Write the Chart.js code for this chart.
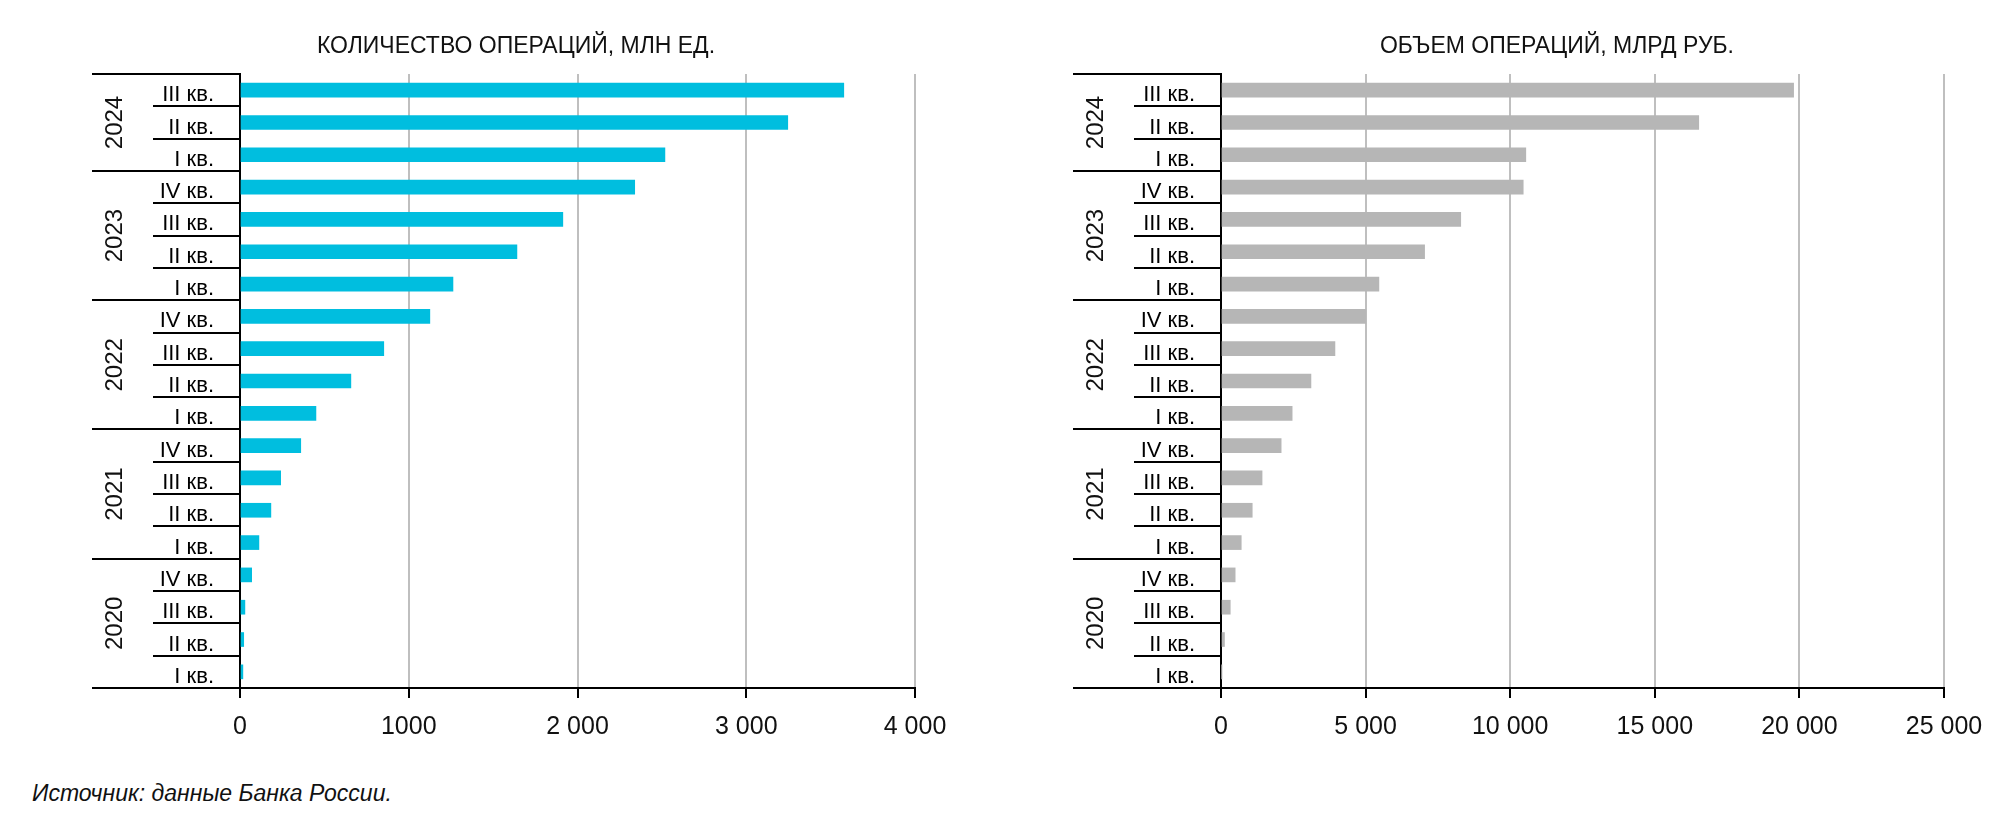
<!DOCTYPE html>
<html><head><meta charset="utf-8">
<script src="https://cdn.jsdelivr.net/npm/chart.js@4"></script>
<style>
body{margin:0;background:#fff;}
#wrap{position:relative;width:2003px;height:830px;overflow:hidden;background:#fff;font-family:"Liberation Sans",Arial,sans-serif;}
.box{position:absolute;top:0;height:760px;}
.title{position:absolute;font-size:23px;color:#111;transform:translateX(-50%);white-space:nowrap;top:31px;line-height:28px;}
.src{position:absolute;left:32px;top:780px;font-size:23px;line-height:26px;font-style:italic;color:#111;}
</style></head><body>
<div id="wrap">
<div class="box" style="left:0;width:1000px"><canvas id="c1"></canvas></div>
<div class="box" style="left:1000px;width:1003px"><canvas id="c2"></canvas></div>
<div class="title" style="left:516px">КОЛИЧЕСТВО ОПЕРАЦИЙ, МЛН ЕД.</div>
<div class="title" style="left:1557px">ОБЪЕМ ОПЕРАЦИЙ, МЛРД РУБ.</div>
<div class="src">Источник: данные Банка России.</div>
</div>
<script>
// Categories, chronological (drawn bottom to top)
const categories = [
  'I кв.','II кв.','III кв.','IV кв.',
  'I кв.','II кв.','III кв.','IV кв.',
  'I кв.','II кв.','III кв.','IV кв.',
  'I кв.','II кв.','III кв.','IV кв.',
  'I кв.','II кв.','III кв.'
];
const categoryYears = [
  '2020','2020','2020','2020',
  '2021','2021','2021','2021',
  '2022','2022','2022','2022',
  '2023','2023','2023','2023',
  '2024','2024','2024'
];
// Number of operations, mln units
const countValues = [17, 22, 29, 69, 112, 183, 241, 360, 450, 657, 852, 1125, 1262, 1641, 1913, 2339, 2518, 3246, 3578];
// Volume of operations, bln rubles
const volumeValues = [20, 120, 320, 490, 700, 1080, 1420, 2080, 2460, 3110, 3940, 5010, 5460, 7040, 8290, 10450, 10540, 16520, 19800];
const countTickLabels = ['0', '1000', '2 000', '3 000', '4 000'];
const volumeTickLabels = ['0', '5 000', '10 000', '15 000', '20 000', '25 000'];

const FONT = '"Liberation Sans", Arial, sans-serif';

const groupPlugin = {
  id: 'groups',
  afterDraw(chart) {
    const {ctx, chartArea: a, scales: {y}} = chart;
    const n = categories.length;
    ctx.save();
    ctx.strokeStyle = '#000';
    ctx.lineWidth = 2;
    for (let k = 0; k <= n; k++) {
      const py = Math.round(y.getPixelForValue(k - 0.5));
      const yearB = k === 0 || k === n || categoryYears[k] !== categoryYears[k - 1];
      const x0 = a.left - (yearB ? 148 : 87);
      const x1 = k === 0 ? a.right : a.left;
      ctx.beginPath();
      ctx.moveTo(x0, py);
      ctx.lineTo(x1, py);
      ctx.stroke();
    }
    ctx.fillStyle = '#111';
    ctx.font = '24px ' + FONT;
    ctx.textAlign = 'center';
    ctx.textBaseline = 'middle';
    const seen = [...new Set(categoryYears)];
    seen.forEach(yr => {
      const first = categoryYears.indexOf(yr);
      const last = categoryYears.lastIndexOf(yr);
      const cy = (y.getPixelForValue(first - 0.5) + y.getPixelForValue(last + 0.5)) / 2;
      ctx.save();
      ctx.translate(a.left - 126, cy);
      ctx.rotate(-Math.PI / 2);
      ctx.fillText(yr, 0, 1);
      ctx.restore();
    });
    ctx.restore();
  }
};

function makeChart(id, values, color, max, step, tickLabels, yWidth, padRight) {
  return new Chart(document.getElementById(id), {
    type: 'bar',
    data: {
      labels: categories,
      datasets: [{data: values, backgroundColor: color, borderWidth: 0, barThickness: 14}]
    },
    options: {
      indexAxis: 'y',
      responsive: true,
      maintainAspectRatio: false,
      animation: false,
      layout: {padding: {top: 74, right: padRight, bottom: 22, left: 0}},
      plugins: {legend: {display: false}, tooltip: {enabled: false}, title: {display: false}},
      scales: {
        x: {
          min: 0, max: max,
          ticks: {
            stepSize: step,
            callback: (v, i) => tickLabels[i],
            color: '#111',
            font: {family: FONT, size: 25},
            padding: 14,
            maxRotation: 0,
            autoSkip: false
          },
          grid: {
            color: c => c.index === 0 ? '#000' : '#bfbfbf',
            lineWidth: 2,
            tickLength: 10,
            tickColor: '#000',
            tickWidth: 2
          },
          border: {display: true, color: '#000', width: 2},
          afterFit(s) { s.height = 50; }
        },
        y: {
          reverse: true,
          grid: {display: false, drawTicks: false},
          border: {display: true, color: '#000', width: 2},
          ticks: {
            color: '#000',
            font: {family: FONT, size: 22},
            padding: 26,
            labelOffset: 5,
            autoSkip: false
          },
          afterFit(s) { s.width = yWidth; }
        }
      }
    },
    plugins: [groupPlugin]
  });
}

makeChart('c1', countValues, '#00bedf', 4000, 1000, countTickLabels, 240, 85);
makeChart('c2', volumeValues, '#b6b6b6', 25000, 5000, volumeTickLabels, 221, 59);
</script>
</body></html>
